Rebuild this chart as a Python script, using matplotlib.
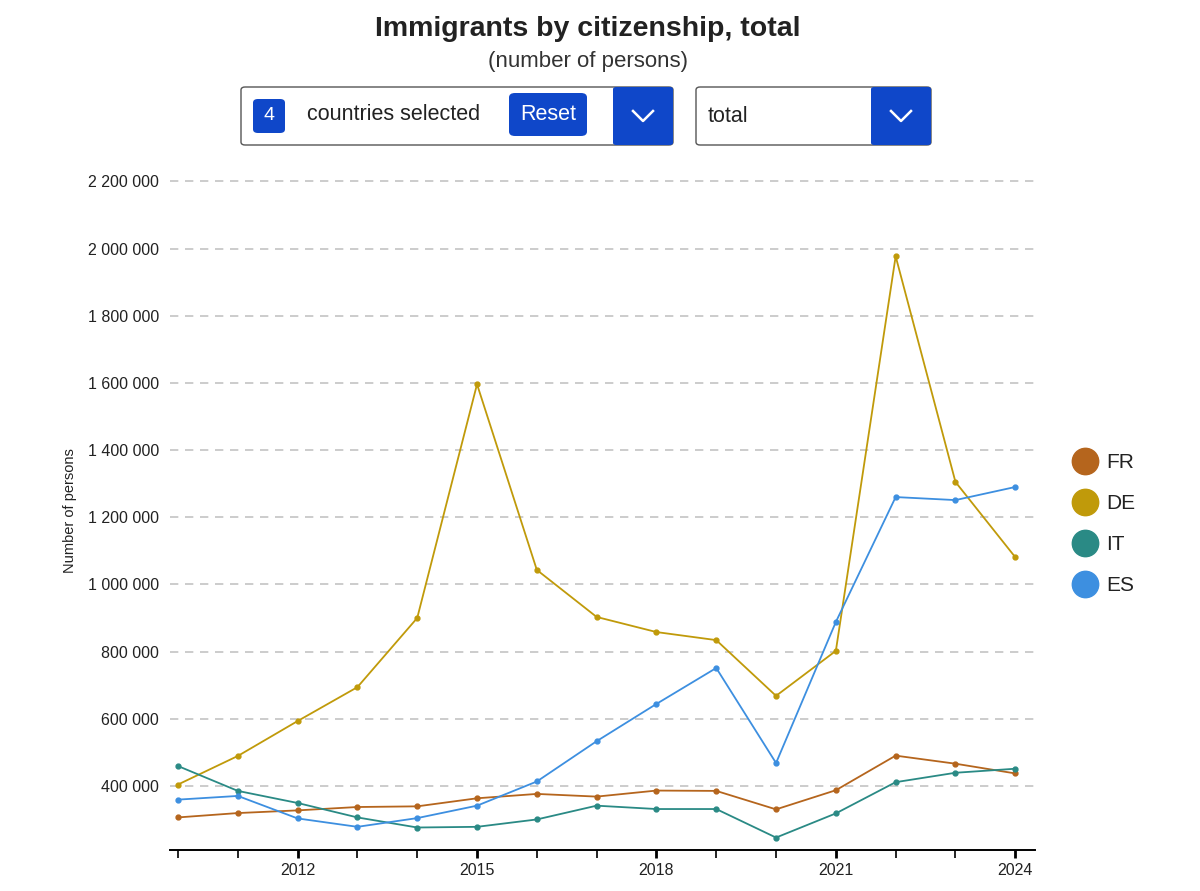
import matplotlib.pyplot as plt
from matplotlib.lines import Line2D
from matplotlib.patches import FancyBboxPatch
from matplotlib.ticker import FuncFormatter, MultipleLocator

plt.rcParams["font.family"] = ["Liberation Sans", "DejaVu Sans"]

years = list(range(2010, 2025))
countries = ["FR", "DE", "IT", "ES"]
fr = [306000, 319000, 327000, 337000, 339000, 363000, 376000, 368000,
      386000, 385000, 330000, 387000, 490000, 466000, 437000]
de = [404000, 489000, 593000, 694000, 900000, 1596000, 1043000, 903000,
      858000, 834000, 668000, 802000, 1977000, 1305000, 1081000]
it = [459000, 385000, 349000, 306000, 276000, 278000, 300000, 341000,
      331000, 331000, 246000, 318000, 411000, 439000, 451000]
es = [359000, 370000, 303000, 278000, 304000, 341000, 413000, 533000,
      644000, 751000, 468000, 888000, 1260000, 1251000, 1290000]
series = [fr, de, it, es]
colors = ["#b5651d", "#c09a0a", "#2a8a85", "#3d8fe0"]

BLUE = "#0f47c9"
TEXT = "#222222"

fig = plt.figure(figsize=(12, 8.91), dpi=100)
ax = fig.add_axes([170 / 1200, 1 - 850 / 891, (1035 - 170) / 1200, (850 - 172) / 891])

for name, vals, col in zip(countries, series, colors):
    ax.plot(years, vals, color=col, lw=1.3, marker="o", ms=3.5, label=name)

ax.set_xlim(2009.866, 2024.33)
ax.set_ylim(209000, 2228000)
ax.set_xticks([2012, 2015, 2018, 2021, 2024])
ax.xaxis.set_minor_locator(MultipleLocator(1))
ax.set_yticks(range(400000, 2200001, 200000))
ax.yaxis.set_major_formatter(FuncFormatter(lambda v, p: f"{int(v):,}".replace(",", " ")))
ax.grid(axis="y", color="#c4c4c4", ls=(0, (5, 4)), lw=1.2)
ax.set_axisbelow(True)
for side in ["left", "right", "top"]:
    ax.spines[side].set_visible(False)
ax.spines["bottom"].set_linewidth(1.4)
ax.tick_params(axis="y", length=0, pad=8, labelsize=11.5, labelcolor=TEXT)
ax.tick_params(axis="x", which="both", length=6, width=1.2, labelsize=11.5, labelcolor=TEXT)
ax.tick_params(axis="x", which="major", width=2)
ax.set_ylabel("Number of persons", fontsize=10.5, color=TEXT, labelpad=8)

handles = [Line2D([], [], ls="none", marker="o", ms=19, color=c) for c in colors]
fig.legend(handles, countries, loc="center left", bbox_to_anchor=(1045 / 1200, 1 - 524 / 891),
           frameon=False, fontsize=15, handletextpad=0.05, labelspacing=1.05,
           labelcolor=TEXT)

fig.text(0.49, 1 - 29 / 891, "Immigrants by citizenship, total", ha="center", va="center",
         fontsize=20.5, fontweight="bold", color=TEXT)
fig.text(0.49, 1 - 62 / 891, "(number of persons)", ha="center", va="center",
         fontsize=16, color="#333333")


def box(x0, y0, x1, y1, fc, ec="none", r=4, lw=1):
    p = FancyBboxPatch((x0 / 1200, 1 - y1 / 891), (x1 - x0) / 1200, (y1 - y0) / 891,
                       boxstyle=f"round,pad=0,rounding_size={r / 1200}",
                       transform=fig.transFigure, fc=fc, ec=ec, lw=lw)
    fig.add_artist(p)


def chevron(cx, cy):
    fig.add_artist(Line2D([(cx - 10) / 1200, cx / 1200, (cx + 10) / 1200],
                          [1 - (cy - 5) / 891, 1 - (cy + 5) / 891, 1 - (cy - 5) / 891],
                          transform=fig.transFigure, color="white", lw=1.8))


# dropdown widgets
box(241, 87, 673, 145, "white", "#555555", lw=1)
box(613, 87, 673, 145, BLUE, r=3)
box(253, 99, 285, 133, BLUE, r=5)
fig.text(269 / 1200, 1 - 116 / 891, "4", ha="center", va="center", color="white", fontsize=14)
fig.text(307 / 1200, 1 - 115 / 891, "countries selected", ha="left", va="center",
         color=TEXT, fontsize=15.5)
box(509, 93, 587, 136, BLUE, r=6)
fig.text(548 / 1200, 1 - 115 / 891, "Reset", ha="center", va="center", color="white", fontsize=15.5)
chevron(643, 116)

box(696, 87, 931, 145, "white", "#555555", lw=1)
box(871, 87, 931, 145, BLUE, r=3)
fig.text(708 / 1200, 1 - 116 / 891, "total", ha="left", va="center", color=TEXT, fontsize=15.5)
chevron(901, 116)

fig.savefig("out.png", dpi=100)
